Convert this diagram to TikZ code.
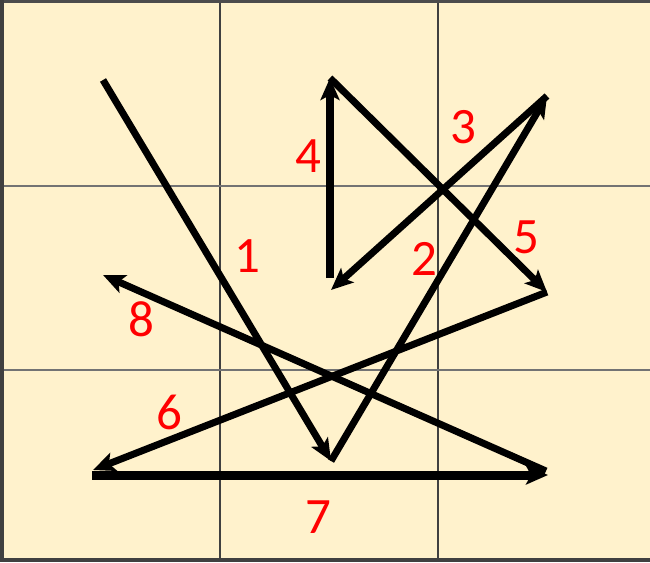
\documentclass[tikz,border=0pt]{standalone}
\usepackage{fontspec}
\setmainfont{Carlito}
\usetikzlibrary{arrows.meta}
\definecolor{bg}{HTML}{FFF2CC}
\definecolor{lbl}{HTML}{FF0000}
\begin{document}
\begin{tikzpicture}[x=1pt,y=-1pt,
  grid/.style={line width=1.3pt,color=black!75},
  gridh/.style={line width=1.3pt,color=black!55},
  arr/.style={line width=7pt,-{Stealth[length=22pt,width=19pt,inset=5pt]}},
  lab/.style={text=lbl,font=\fontsize{51}{51}\selectfont,inner sep=0pt}]
\useasboundingbox (0,0) rectangle (650,562);
\fill[bg] (0,0) rectangle (650,562);
% grid
\draw[grid] (220,0) -- (220,562);
\draw[grid] (438,0) -- (438,562);
\draw[gridh] (0,186) -- (650,186);
\draw[gridh] (0,370) -- (650,370);
% frame
\draw[line width=3pt,color=black!70] (0,1) -- (650,1);
\draw[line width=4pt,color=black!75] (2,0) -- (2,562);
\draw[line width=4pt,color=black!75] (0,560) -- (650,560);
% points
\coordinate (A) at (103,80);
\coordinate (B) at (331,461);
\coordinate (C) at (547,96);
\coordinate (D) at (331,290);
\coordinate (D4) at (330,278);
\coordinate (E) at (330,78);
\coordinate (F) at (547,292);
\coordinate (G) at (93,470);
\coordinate (G7) at (92,475);
\coordinate (H) at (548,475);
\coordinate (H8) at (546,471);
\coordinate (I) at (103,275);
% arrows
\draw[arr] (A) -- (B);
\draw[arr] (B) -- (C);
\draw[arr] (C) -- (D);
\draw[arr,line width=8pt] (D4) -- (E);
\draw[arr] (E) -- (F);
\draw[arr] (F) -- (G);
\draw[arr,line width=9pt] (G7) -- (H);
\draw[arr] (H8) -- (I);
% labels
\node[lab] (l1) at (247,256) {1};
\node[lab] (l2) at (424,259) {2};
\node[lab] (l3) at (463,127) {3};
\node[lab] (l4) at (308,156) {4};
\node[lab] (l5) at (526,237) {5};
\node[lab] (l6) at (169,412) {6};
\node[lab] (l7) at (318,517) {7};
\node[lab] (l8) at (141,319) {8};
\end{tikzpicture}
\end{document}
